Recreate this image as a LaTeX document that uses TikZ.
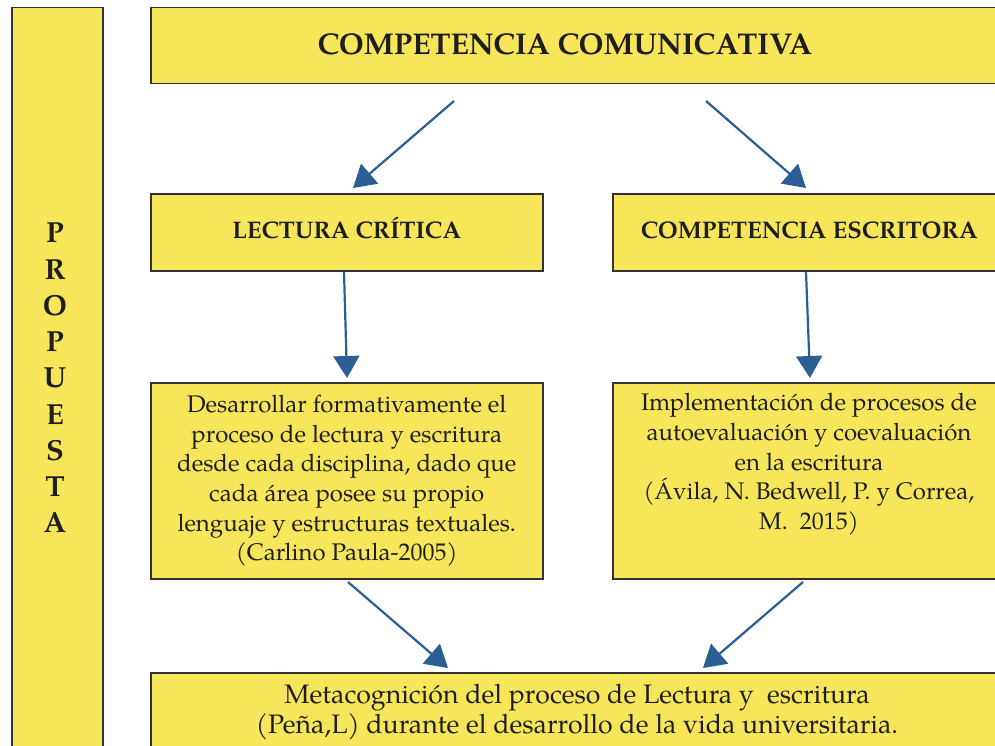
\documentclass[tikz,border=0pt]{standalone}
\usepackage{fontspec}
\setmainfont{TeX Gyre Pagella}
\usetikzlibrary{arrows.meta}
\definecolor{boxfill}{HTML}{F8E65A}
\definecolor{boxline}{HTML}{333333}
\definecolor{arrowblue}{HTML}{2B5E94}
\definecolor{txt}{HTML}{1E1E1E}
\tikzset{
  box/.style={draw=boxline, line width=1.5pt, fill=boxfill, anchor=north west, inner sep=0pt, text=txt},
  lbl/.style={align=center, text=txt, inner sep=0pt},
  body/.style={font=\fontsize{24}{29.7}\selectfont},
  head/.style={font=\fontsize{24}{28}\selectfont\bfseries, text height=13pt, text depth=0pt},
  conn/.style={draw=arrowblue, line width=2.2pt, -{Triangle[length=22pt,width=26pt]}}
}
\begin{document}
\begin{tikzpicture}[x=1pt,y=-1pt]
\useasboundingbox (0,0) rectangle (995,746);
\clip (0,0) rectangle (995,746);
% boxes
\node[box, minimum width=91, minimum height=760] (bar) at (11,7) {};
\node[box, minimum width=855, minimum height=76] (top) at (150,7) {};
\node[box, minimum width=392, minimum height=77, head] (lc) at (150,193) {LECTURA CRÍTICA};
\node[box, minimum width=393, minimum height=77, head] (ce) at (612,193) {COMPETENCIA ESCRITORA};
\node[box, minimum width=392, minimum height=196, body, align=center] (b3) at (150,382) {Desarrollar formativamente el\\proceso de lectura y escritura\\desde cada disciplina, dado que\\cada área posee su propio\\lenguaje y estructuras textuales.\\(Carlino Paula-2005)};
\node[box, minimum width=393, minimum height=196] (b4) at (612,382) {};
\node[box, minimum width=855, minimum height=90] (bot) at (150,672) {};
% texts
\node[lbl, font=\fontsize{30}{34}\selectfont\bfseries] (toptxt) at (565,44) {COMPETENCIA COMUNICATIVA};
\node[lbl, font=\fontsize{29}{36.25}\selectfont\bfseries] (prop) at (55,378) {P\\R\\O\\P\\U\\E\\S\\T\\A};
\node[lbl, body, anchor=north] (b4txt) at (809,393) {Implementación de procesos de\\autoevaluación y coevaluación\\en la escritura\\(Ávila, N. Bedwell, P. y Correa,\\M.\ \ 2015)};
\node[lbl, font=\fontsize{26.7}{30}\selectfont] (bottxt) at (577,712) {Metacognición del proceso de Lectura y\ \ escritura\\(Peña,L) durante el desarrollo de la vida universitaria.};
% connector ends
\coordinate (a1s) at (454,101); \coordinate (a1e) at (353,188);
\coordinate (a2s) at (706,101); \coordinate (a2e) at (806,188);
\coordinate (a3s) at (344,272); \coordinate (a3e) at (347,378);
\coordinate (a4s) at (806,272); \coordinate (a4e) at (810,378);
\coordinate (a5s) at (348,582); \coordinate (a5e) at (448,668);
\coordinate (a6s) at (803,582); \coordinate (a6e) at (703,668);
\draw[conn] (a1s) -- (a1e);
\draw[conn] (a2s) -- (a2e);
\draw[conn] (a3s) -- (a3e);
\draw[conn] (a4s) -- (a4e);
\draw[conn] (a5s) -- (a5e);
\draw[conn] (a6s) -- (a6e);
\end{tikzpicture}
\end{document}
